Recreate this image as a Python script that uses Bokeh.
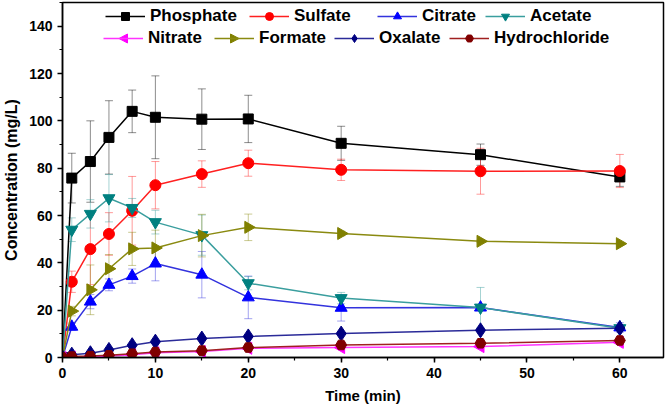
import numpy as np
from bokeh.plotting import figure
from bokeh.models import (ColumnDataSource, Whisker, TeeHead, Legend, LegendItem,
                          SingleIntervalTicker, Range1d, PolyAnnotation)
from bokeh.embed import file_html
from bokeh.resources import INLINE

# ---- data ----
time = [0, 1, 3, 5, 7.5, 10, 15, 20, 30, 45, 60]

phosphate = [0, 75.8, 82.8, 93.0, 104.0, 101.5, 100.7, 100.8, 90.5, 85.7, 76.3]
phosphate_err = [0, 10.5, 17.2, 15.5, 9.0, 17.5, 12.8, 10.0, 7.2, 4.5, 4.0]

sulfate = [0, 32.0, 45.8, 52.2, 62.0, 72.8, 77.5, 82.1, 79.3, 78.7, 78.8]
sulfate_err = [0, 4.5, 15.0, 9.0, 14.5, 10.0, 5.6, 5.5, 4.5, 9.7, 7.0]

citrate = [0, 13.0, 23.6, 30.7, 34.4, 39.7, 35.0, 25.4, 21.0, 21.1, 12.7]
citrate_err = [0, 1.5, 3.0, 2.5, 3.0, 7.3, 9.8, 9.0, 5.6, 0, 2.0]

acetate = [0, 54.0, 60.7, 67.3, 63.2, 57.2, 51.7, 31.4, 25.1, 21.1, 12.4]
acetate_err = [0, 5.0, 6.0, 10.0, 4.0, 5.0, 8.5, 2.8, 2.4, 8.5, 1.0]

nitrate = [0, 0.2, 0.4, 0.6, 1.2, 2.0, 2.5, 3.9, 4.2, 4.6, 6.4]
nitrate_err = [0, 0, 0, 0, 0, 0.5, 0.5, 0.5, 0.5, 0.5, 0.5]

formate = [0, 19.6, 28.6, 37.5, 45.9, 46.3, 51.5, 55.0, 52.4, 49.1, 48.1]
formate_err = [0, 2.0, 10.5, 6.0, 7.0, 7.5, 9.0, 5.6, 1.0, 0.5, 0.5]

oxalate = [0, 1.2, 1.8, 3.2, 5.2, 6.7, 8.0, 8.9, 10.1, 11.5, 12.4]
oxalate_err = [0, 0, 0, 0, 0.5, 0.5, 0.5, 0.5, 0.5, 0.5, 0.5]

hydrochloride = [0, 0.4, 0.6, 0.9, 1.6, 2.3, 2.9, 4.2, 5.3, 6.0, 7.2]
hydrochloride_err = [0, 0, 0, 0, 0.5, 0.5, 0.5, 0.5, 0.5, 0.5, 0.5]

FONT = "Liberation Sans"

p = figure(width=666, height=413, output_backend="svg", toolbar_location=None,
           x_range=Range1d(0, 64.7), y_range=Range1d(0, 150),
           min_border_left=60, min_border_right=3, min_border_top=2,
           min_border_bottom=56)
p.grid.visible = False
p.outline_line_color = "black"
p.outline_line_width = 1.5
p.background_fill_color = "white"
p.border_fill_color = "white"

p.xaxis.ticker = SingleIntervalTicker(interval=10, num_minor_ticks=2)
p.yaxis.ticker = SingleIntervalTicker(interval=20, num_minor_ticks=2)
for ax in (p.xaxis[0], p.yaxis[0]):
    ax.axis_line_width = 1.5
    ax.major_tick_line_width = 1.5
    ax.minor_tick_line_width = 1.2
    ax.major_tick_in = 0
    ax.major_tick_out = 5
    ax.minor_tick_in = 0
    ax.minor_tick_out = 3
    ax.major_label_text_font = FONT
    ax.major_label_text_font_style = "bold"
    ax.major_label_text_font_size = "14px"
    ax.major_label_text_color = "black"
    ax.axis_label_text_font = FONT
    ax.axis_label_text_font_style = "bold"
    ax.axis_label_text_color = "black"
p.xaxis.axis_label = "Time (min)"
p.yaxis.axis_label = "Concentration (mg/L)"
p.xaxis.axis_label_text_font_size = "15px"
p.yaxis.axis_label_text_font_size = "16px"
p.xaxis.major_label_standoff = 5
p.yaxis.major_label_standoff = 5
p.xaxis.axis_label_standoff = 6
p.yaxis.axis_label_standoff = 6

# name, values, errors, marker colour, line colour, marker, size, angle, legend triangle dir
series = [
    ("Phosphate", phosphate, phosphate_err, "black", "black", "square", 10, 0, 0),
    ("Sulfate", sulfate, sulfate_err, "#ff0000", "#ff2020", "circle", 11, 0, 0),
    ("Citrate", citrate, citrate_err, "#0000ff", "#3333dd", "triangle", 12, 0, 0),
    ("Acetate", acetate, acetate_err, "#008080", "#3a9e9e", "inverted_triangle", 12, 0, 0),
    ("Nitrate", nitrate, nitrate_err, "#ff00ff", "#ff33ff", "triangle", 12, np.pi / 2, -1),
    ("Formate", formate, formate_err, "#808000", "#8a8a10", "triangle", 12, -np.pi / 2, 1),
    ("Oxalate", oxalate, oxalate_err, "#000080", "#2b2b99", "diamond", 15, 0, 0),
    ("Hydrochloride", hydrochloride, hydrochloride_err, "#800000", "#a02020", "hex", 11, 0, 0),
]

# legend placement (frame-relative px): label -> (x_left, row)
legend_pos = {"Phosphate": (43, 0), "Sulfate": (187, 0), "Citrate": (315, 0), "Acetate": (423, 0),
              "Nitrate": (41, 1), "Formate": (152, 1), "Oxalate": (272, 1), "Hydrochloride": (387, 1)}
row_y = [331, 309]

for name, vals, errs, mcol, lcol, marker, size, ang, tri in series:
    t = [ti for ti, e in zip(time, errs) if e > 0]
    up = [v + e for v, e in zip(vals, errs) if e > 0]
    lo = [v - e for v, e in zip(vals, errs) if e > 0]
    wsrc = ColumnDataSource(dict(t=t, up=up, lo=lo))
    w = Whisker(base="t", upper="up", lower="lo", source=wsrc, dimension="height",
                line_color=lcol, line_alpha=0.45, line_width=1,
                upper_head=TeeHead(size=8, line_color=lcol, line_alpha=0.45, line_width=1),
                lower_head=TeeHead(size=8, line_color=lcol, line_alpha=0.45, line_width=1))
    p.add_layout(w)

renderers = {}
for name, vals, errs, mcol, lcol, marker, size, ang, tri in series:
    src = ColumnDataSource(dict(t=time, v=vals))
    l = p.line("t", "v", source=src, line_color=lcol, line_width=1.5)
    s = p.scatter("t", "v", source=src, marker=marker, size=size, angle=ang,
                  fill_color=mcol, line_color=mcol)
    renderers[name] = (l, s, mcol, tri)

for name, (l, s, mcol, tri) in renderers.items():
    xpos, row = legend_pos[name]
    rs = [l, s] if tri == 0 else [l]
    leg = Legend(items=[LegendItem(label=name, renderers=rs)],
                 location=(xpos, row_y[row]), orientation="horizontal",
                 padding=0, margin=0, spacing=0, glyph_width=40, glyph_height=20,
                 label_height=20, label_standoff=5,
                 label_text_font=FONT, label_text_font_style="bold",
                 label_text_font_size="17px", label_text_color="black",
                 border_line_color=None, background_fill_alpha=0)
    p.add_layout(leg)
    if tri != 0:
        cx, cy = xpos + 20, row_y[row] + 10
        xs = [cx + 4.5 * tri, cx - 4 * tri, cx - 4 * tri]
        ys = [cy, cy + 4.5, cy - 4.5]
        p.add_layout(PolyAnnotation(xs=xs, ys=ys, xs_units="screen", ys_units="screen",
                                    fill_color=mcol, fill_alpha=1.0,
                                    line_color=mcol, line_alpha=1.0, line_width=1))

open("out.html", "w").write(file_html(p, INLINE))
